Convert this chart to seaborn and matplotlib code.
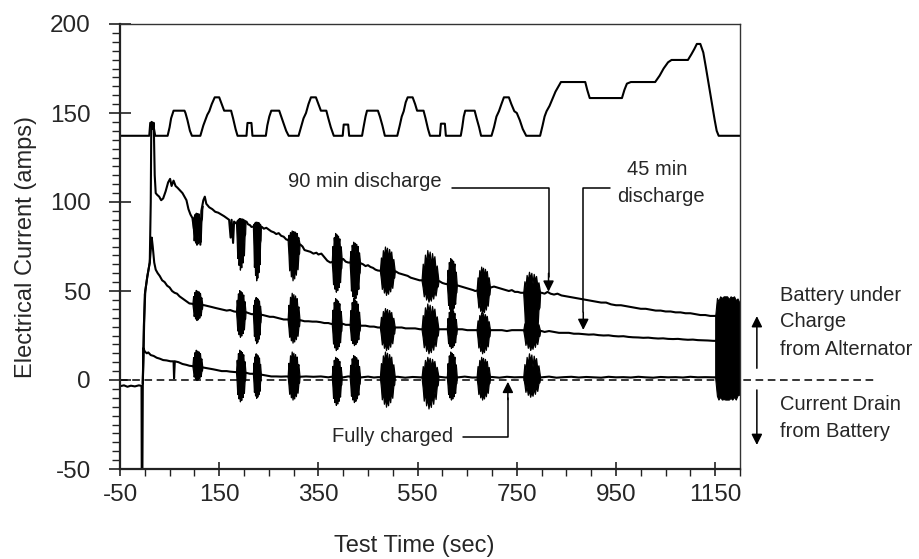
import numpy as np
import pandas as pd
import matplotlib
matplotlib.use("Agg")
import matplotlib.pyplot as plt
import seaborn as sns
from matplotlib.ticker import MultipleLocator

# ---------------- data ----------------
# vehicle speed profile drawn at the top (arbitrary offset scale)
speed_t = [-50, 9, 11, 15, 18, 21, 46, 50, 53, 58, 80, 82, 86, 91, 95, 112, 118, 122, 126, 130, 135, 141,
           150, 155, 160, 174, 178, 183, 187, 205, 207, 215, 217, 244, 247, 251, 255, 271, 275, 280, 285,
           290, 310, 315, 320, 325, 330, 335, 345, 350, 355, 366, 370, 375, 381, 399, 401, 410, 412, 438,
           441, 445, 448, 470, 474, 479, 484, 509, 514, 518, 522, 526, 530, 540, 545, 549, 562, 566, 571,
           575, 595, 597, 605, 607, 637, 640, 643, 646, 665, 669, 674, 678, 699, 704, 709, 714, 719, 724,
           734, 739, 745, 750, 756, 762, 769, 797, 802, 806, 810, 816, 822, 828, 834, 839, 888, 892, 897,
           962, 967, 972, 980, 1029, 1038, 1046, 1055, 1062, 1095, 1102, 1108, 1113, 1120, 1126, 1131,
           1137, 1143, 1149, 1153, 1157, 1200]
speed_v = [137.2, 137.2, 144.5, 144.5, 142, 137.2, 137.2, 142, 147, 151.3, 151.3, 150, 146, 140, 137.2,
           137.2, 143, 146, 149, 151, 155, 158.8, 158.8, 155, 151.3, 151.3, 147, 141, 137.2, 137.2, 144.4,
           144.4, 137.2, 137.2, 143, 148, 151.3, 151.3, 148, 144, 140, 137.2, 137.2, 142, 147, 150, 155,
           158.8, 158.8, 155, 151.3, 151.3, 147, 142, 137.2, 137.2, 143.5, 143.5, 137.2, 137.2, 142, 148,
           151.3, 151.3, 148, 143, 137.2, 137.2, 143, 148, 151, 156, 158.8, 158.8, 155, 151.3, 151.3, 147,
           141, 137.2, 137.2, 144, 144, 137.2, 137.2, 142, 148, 151.3, 151.3, 147, 142, 137.2, 137.2, 142,
           148, 151, 155, 158.8, 158.8, 155, 151, 150, 146, 141, 137.2, 137.2, 143, 148, 151, 154, 158,
           162, 165, 167.4, 167.4, 163, 158.4, 158.4, 163, 166.5, 167.4, 167.4, 171, 175, 178.5, 179.8,
           179.8, 183, 186, 188.8, 188.8, 184, 176, 166, 156, 146, 140, 137.2, 137.2]

# battery current, 90 min discharge (top trace)
top_t = [-50, -42, -35, -28, -20, -12, -6.6, -6.2, -4.8, -4, 0, 5, 10, 12, 13, 14, 16, 18, 20, 22, 25,
         29, 33, 37, 42, 47, 51, 54, 58, 62, 66, 71, 76, 80, 84, 88, 92, 96, 99, 101, 104, 106, 109, 112,
         114, 118, 121, 124, 130, 136, 142, 148, 154, 160, 165, 170, 173, 175, 178, 180, 184, 194, 205,
         208, 212, 215, 226, 236, 240, 245, 250, 255, 260, 265, 270, 275, 280, 285, 300, 314, 318, 322,
         328, 334, 340, 346, 350, 356, 362, 368, 374, 387, 400, 405, 410, 423, 436, 440, 445, 450, 455,
         460, 465, 470, 489, 506, 512, 518, 524, 530, 536, 542, 548, 554, 575, 594, 600, 606, 619, 632,
         638, 644, 650, 656, 662, 666, 682, 698, 704, 710, 716, 722, 728, 734, 740, 746, 752, 758, 780,
         800, 806, 812, 818, 825, 832, 840, 850, 860, 870, 880, 890, 900, 910, 920, 930, 940, 950, 960,
         970, 980, 990, 1000, 1010, 1020, 1030, 1040, 1050, 1060, 1070, 1080, 1090, 1100, 1110, 1120,
         1130, 1140, 1148, 1170, 1198]
top_v = [-3.5, -3.0, -3.8, -3.2, -3.6, -3.0, -3.3, -50, -50, -2, 48, 58, 66, 100, 140, 145, 141, 144.5,
         115, 105, 104, 103, 101, 102, 106, 111, 113, 109, 112, 109, 108, 106.5, 105, 103, 101, 96, 93,
         91, 85, 92, 77, 93, 89, 76, 95, 101, 103, 99, 97, 96, 94.5, 94, 93, 92, 91, 90, 80, 90, 77, 89,
         88, 88.5, 89, 87.5, 87, 86, 86.5, 86, 85, 85.5, 84.5, 83.5, 83, 82, 82.5, 81, 80.5, 79, 77.5,
         76, 75, 73, 72.5, 72, 71, 71.5, 70.5, 71, 69, 67, 66, 67, 68, 66.5, 66, 66, 65.5, 65, 64, 64.5,
         63.5, 63, 62, 61.5, 61, 61, 60, 59.5, 59, 58.5, 57.5, 57, 56.5, 56, 56, 55.5, 54.5, 54, 53.5,
         53, 52.5, 52, 51.5, 51, 50.5, 50, 51, 52, 52.5, 52, 51.5, 51, 50.5, 50, 50.5, 49.5, 49.5, 49,
         49, 49, 48.5, 49.5, 48.5, 48, 48.5, 47.5, 47, 46.5, 46, 45.5, 45, 44.5, 44, 43.5, 43.5, 42.5,
         42, 42, 41.5, 41, 40.5, 40, 40, 39.5, 39, 39, 38.5, 38.5, 38, 38, 37.5, 37.5, 37, 36.5, 36.5,
         36, 36, 36, 35]

# battery current, 45 min discharge (middle trace)
mid_t = [-4, -2, 1, 5, 10, 14, 16, 19, 22, 26, 30, 35, 40, 45, 50, 55, 60, 65, 70, 75, 80, 85, 90, 106,
         120, 128, 135, 142, 150, 158, 165, 172, 180, 194, 205, 210, 215, 226, 238, 245, 252, 259, 266,
         273, 280, 286, 300, 315, 322, 330, 338, 346, 354, 362, 370, 376, 387, 400, 405, 410, 423, 437,
         445, 454, 462, 470, 489, 510, 518, 526, 535, 545, 555, 575, 594, 600, 606, 619, 632, 640, 650,
         660, 682, 700, 710, 720, 730, 740, 750, 758, 780, 800, 806, 815, 825, 835, 845, 855, 865, 875,
         884, 895, 905, 915, 925, 935, 945, 955, 965, 975, 984, 995, 1005, 1015, 1025, 1035, 1045, 1055,
         1065, 1075, 1085, 1095, 1105, 1115, 1125, 1135, 1146, 1170, 1198]
mid_v = [-2, 30, 50, 58, 66, 80, 75, 66, 62, 60, 58.5, 56, 55, 53, 52, 50, 49, 48.5, 47, 46, 45, 44, 43,
         42.5, 42, 41.5, 41, 40.5, 40, 39.5, 39, 39.3, 38.5, 38, 38, 37.5, 37, 37, 36.5, 36, 35.5, 35.5,
         35, 34.5, 34, 34, 34, 33.5, 33, 33, 32.8, 32.8, 32.5, 32, 32, 31.5, 31.5, 31.5, 31, 31, 31, 30.5,
         30.5, 30, 30, 29.5, 29.5, 29.5, 29.5, 29, 29, 29, 28.5, 28.5, 28.5, 28.5, 28.5, 28.5, 28.5, 28.5,
         28, 28, 28, 28, 28, 28, 27.5, 28, 28, 28, 27.8, 27.5, 27, 27.5, 27, 26.5, 26.5, 26.5, 26, 26,
         25.8, 25.5, 25.6, 25.2, 25, 25.1, 24.7, 24.5, 24.6, 24.2, 24, 23.9, 23.7, 23.8, 23.5, 23.3,
         23.4, 23.1, 23, 23.1, 22.8, 22.6, 22.7, 22.4, 22.3, 22.2, 22, 22, 21.5]

# battery current, fully charged (bottom trace)
bot_t = [-4, -3, 0, 4, 7, 12, 18, 24, 30, 37, 44, 52, 58, 59, 60.5, 68, 76, 84, 90, 105, 118, 128, 138,
         145, 155, 165, 172, 180, 194, 205, 212, 217, 226, 235, 245, 255, 265, 275, 285, 300, 312, 325,
         340, 355, 370, 376, 387, 400, 410, 423, 437, 450, 462, 470, 489, 510, 525, 540, 555, 575, 594,
         606, 619, 632, 645, 660, 682, 700, 715, 730, 745, 758, 780, 800, 815, 830, 845, 860, 875, 890,
         905, 920, 935, 950, 965, 980, 995, 1010, 1025, 1040, 1055, 1070, 1085, 1100, 1115, 1130,
         1146, 1170, 1198]
bot_v = [-2, 18, 16, 15, 15.5, 14, 13.5, 12.5, 12, 11.2, 11, 10.5, 10.5, 1, 10.5, 10, 9, 8.5, 8, 7.5, 7,
         6.5, 6, 5.6, 5, 5, 4.7, 4.5, 4.2, 4, 3.5, 3.5, 3.2, 3, 2.5, 2, 2, 1.9, 2, 1.8, 1.8, 2, 1.8, 2,
         1.5, 1.8, 1.6, 1.5, 2, 1.7, 1.5, 1.9, 1.4, 1.6, 1.5, 1.8, 1.3, 1.7, 1.5, 1.5, 1.8, 1.4, 1.6,
         1.5, 1.9, 1.4, 1.5, 1.7, 1.3, 1.8, 1.5, 1.6, 1.5, 1.5, 1.9, 1.3, 1.6, 1.8, 1.4, 1.7, 1.5, 1.3,
         1.8, 1.5, 1.6, 1.4, 1.8, 1.5, 1.3, 1.7, 1.5, 1.6, 1.4, 1.8, 1.5, 1.6, 1.5, 1.5, 1.5]

# bursts of oscillation (idle periods): time window and envelope per trace
burst_start = [96, 184, 218, 288, 377, 413, 474, 558, 609, 669, 763]
burst_end = [116, 203, 234, 312, 397, 434, 504, 592, 629, 696, 797]
top_hi = [94, 91, 89, 84, 82.6, 77.7, 75, 73, 68.5, 63.7, 60.8]
top_lo = [76, 62, 56, 56, 49.6, 45, 47.8, 44, 38.4, 37.5, 17]
mid_hi = [50.6, 50.5, 46.6, 49, 46, 46, 40.4, 43, 40, 38, 35]
mid_lo = [33.7, 24.3, 20.7, 21, 16.8, 19.6, 16.8, 15, 18, 15, 17]
bot_hi = [17, 17, 15, 16, 13, 14, 16, 13, 16, 13, 15]
bot_lo = [0, -12, -10, -11, -14, -12.4, -15, -16, -11, -11, -9.4]
# final block of oscillation at the end of the test
end_block_t = [1150, 1200]
end_block_hi = 47
end_block_lo = -11

xticks = [-50, 150, 350, 550, 750, 950, 1150]
yticks = [-50, 0, 50, 100, 150, 200]

# ---------------- figure ----------------
sns.set_style("ticks")
plt.rcParams["font.family"] = ["Liberation Sans", "DejaVu Sans"]
plt.rcParams["axes.unicode_minus"] = False

fig = plt.figure(figsize=(9.19, 5.59), dpi=100)
ax = fig.add_axes([120 / 919, 1 - 469 / 559, 620 / 919, 445 / 559])

lw = 1.5
for t, v in [(speed_t, speed_v), (top_t, top_v), (mid_t, mid_v), (bot_t, bot_v)]:
    df = pd.DataFrame({"t": t, "v": v})
    sns.lineplot(data=df, x="t", y="v", sort=False, estimator=None, color="black",
                 linewidth=lw, ax=ax)

# jagged outline template used to draw an oscillation burst (shape only)
prof_x = np.array([0, 0.07, 0.13, 0.2, 0.27, 0.34, 0.41, 0.48, 0.55, 0.62, 0.69, 0.76, 0.83, 0.9, 0.96, 1])
prof_up = np.array([0, 0.55, 0.25, 0.85, 0.55, 1.0, 0.7, 0.95, 0.45, 0.9, 0.6, 0.8, 0.35, 0.5, 0.2, 0])
prof_dn = np.array([0, 0.35, 0.75, 0.45, 0.9, 0.65, 1.0, 0.75, 0.95, 0.55, 0.85, 0.45, 0.7, 0.3, 0.25, 0])


def burst(t0, t1, hi, lo, ct, cv):
    xs = t0 + (t1 - t0) * prof_x
    base = np.interp(xs, ct, cv)
    up = base + (hi - base) * prof_up
    dn = base + (lo - base) * prof_dn
    ax.fill_between(xs, dn, up, color="black", linewidth=0.9, edgecolor="black")


for i in range(len(burst_start)):
    t0, t1 = burst_start[i], burst_end[i]
    burst(t0, t1, top_hi[i], top_lo[i], top_t, top_v)
    burst(t0, t1, mid_hi[i], mid_lo[i], mid_t, mid_v)
    burst(t0, t1, bot_hi[i], bot_lo[i], bot_t, bot_v)

# end-of-test block: ragged top and bottom
eb_x = end_block_t[0] + (end_block_t[1] - end_block_t[0]) * prof_x
eb_up = end_block_hi - 6 * (1 - np.clip(prof_up + 0.3, 0, 1))
eb_dn = end_block_lo + 6 * (1 - np.clip(prof_dn + 0.3, 0, 1))
eb_up[0], eb_dn[0] = 36, 1
ax.fill_between(eb_x, eb_dn, eb_up, color="black", linewidth=0.8, edgecolor="black")

# zero line (dashed), extends past the plot
ax.plot([-50, 1476], [0, 0], ls=(0, (5, 3)), color="black", lw=1.1, clip_on=False)

# axes
ax.set_xlim(-50, 1200)
ax.set_ylim(-50, 200)
ax.set_xticks(xticks)
ax.set_yticks(yticks)
ax.xaxis.set_minor_locator(MultipleLocator(50))
ax.yaxis.set_minor_locator(MultipleLocator(5))
ax.tick_params(axis="x", which="major", direction="inout", length=10, width=1.2,
               labelsize=17.5, pad=6, color="#222222")
ax.tick_params(axis="x", which="minor", direction="out", length=5, width=1.0, color="#222222")
ax.tick_params(axis="y", which="major", direction="inout", length=16, width=1.2,
               labelsize=17.5, pad=13, color="#222222")
ax.tick_params(axis="y", which="minor", direction="out", length=5.5, width=1.0, color="#222222")
for s in ["left", "bottom"]:
    ax.spines[s].set_linewidth(1.6)
    ax.spines[s].set_color("#222222")
for s in ["top", "right"]:
    ax.spines[s].set_visible(True)
    ax.spines[s].set_linewidth(1.0)
    ax.spines[s].set_color("#333333")

ax.set_xlabel("Test Time (sec)", fontsize=17)
ax.set_ylabel("Electrical Current (amps)", fontsize=17)
ax.xaxis.set_label_coords(0.475, -0.148)
ax.yaxis.set_label_coords(-0.134, 0.5)

# annotations
fs = 14.5
akw = dict(arrowstyle="-|>", color="black", lw=1.1, mutation_scale=16, shrinkA=0, shrinkB=0)
ax.text(289, 111.4, "90 min discharge", fontsize=fs, ha="left", va="center")
ax.plot([619, 814, 814], [108, 108, 58], color="black", lw=1.1)
ax.annotate("", xy=(814, 49.6), xytext=(814, 60), arrowprops=akw)

ax.text(972, 118, "45 min", fontsize=fs, ha="left", va="center")
ax.text(952, 103, "discharge", fontsize=fs, ha="left", va="center")
ax.plot([938, 884, 884], [108, 108, 38], color="black", lw=1.1)
ax.annotate("", xy=(884, 28.1), xytext=(884, 38), arrowprops=akw)

ax.text(377, -31.5, "Fully charged", fontsize=fs, ha="left", va="center")
ax.plot([642, 732, 732], [-32, -32, -10], color="black", lw=1.1)
ax.annotate("", xy=(732, -1), xytext=(732, -11), arrowprops=akw)

for yv, s in [(47.6, "Battery under"), (32.7, "Charge"), (17.2, "from Alternator"),
              (-14, "Current Drain"), (-29, "from Battery")]:
    ax.text(1281, yv, s, fontsize=fs, ha="left", va="center", clip_on=False)
ax.annotate("", xy=(1234, 35.9), xytext=(1234, 6.6), arrowprops=akw, annotation_clip=False)
ax.annotate("", xy=(1234, -36.5), xytext=(1234, -5.6), arrowprops=akw, annotation_clip=False)

fig.savefig("out.png", dpi=100)
